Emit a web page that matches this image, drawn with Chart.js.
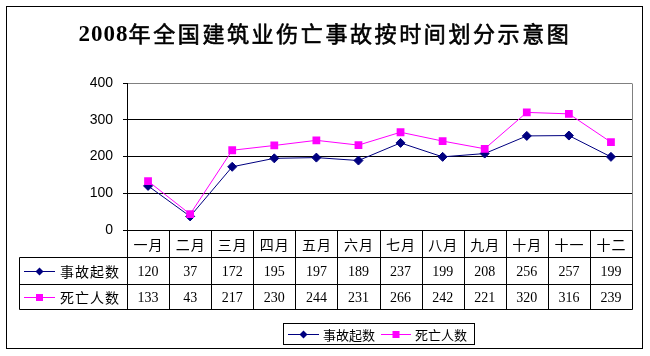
<!DOCTYPE html>
<html><head><meta charset="utf-8">
<script src="https://cdn.jsdelivr.net/npm/chart.js@4"></script>
<style>html,body{margin:0;padding:0;background:#fff;} canvas{display:block;}</style>
</head><body>
<canvas id="c" width="650" height="356" style="width:650px;height:356px"></canvas>
<script>
const titleYear = '2008';
const titleRest = '年全国建筑业伤亡事故按时间划分示意图';
const months = ['一月','二月','三月','四月','五月','六月','七月','八月','九月','十月','十一','十二'];
const accidentName = '事故起数';
const deathName = '死亡人数';
const accidents = [120, 37, 172, 195, 197, 189, 237, 199, 208, 256, 257, 199];
const deaths = [133, 43, 217, 230, 244, 231, 266, 242, 221, 320, 316, 239];
const yMin = 0, yMax = 400, yStep = 100;

const NAVY = '#000080', MAGENTA = '#FF00FF';
const CJK = '"Noto Sans CJK SC", sans-serif';

function drawMarker(ctx, x, y, style, color) {
  ctx.save();
  ctx.fillStyle = color;
  ctx.beginPath();
  if (style === 'diamond') {
    const r = 4;
    ctx.moveTo(x, y - r); ctx.lineTo(x + r, y); ctx.lineTo(x, y + r); ctx.lineTo(x - r, y);
    ctx.closePath();
  } else {
    ctx.rect(x - 3.5, y - 3.5, 7, 7);
  }
  ctx.fill();
  ctx.restore();
}
function drawKey(ctx, x1, x2, y, color, style) {
  ctx.save();
  ctx.strokeStyle = color; ctx.lineWidth = 1;
  ctx.beginPath(); ctx.moveTo(x1, Math.round(y) + 0.5); ctx.lineTo(x2, Math.round(y) + 0.5); ctx.stroke();
  ctx.restore();
  drawMarker(ctx, (x1 + x2) / 2, Math.round(y) + 0.5, style, color);
}

const framePlugin = {
  id: 'frame',
  beforeDraw(chart) {
    const ctx = chart.ctx;
    ctx.save(); ctx.fillStyle = '#fff'; ctx.fillRect(0, 0, chart.width, chart.height); ctx.restore();
  },
  afterDraw(chart) {
    const ctx = chart.ctx, a = chart.chartArea, x = chart.scales.x;
    const px = v => Math.round(v) + 0.5;
    ctx.save();
    // outer border
    ctx.strokeStyle = '#000'; ctx.lineWidth = 1;
    ctx.strokeRect(6.5, 6.5, 636, 342);
    // plot right border (gray)
    ctx.strokeStyle = '#808080';
    ctx.beginPath(); ctx.moveTo(px(a.right), px(a.top)); ctx.lineTo(px(a.right), px(a.bottom)); ctx.stroke();

    // title
    ctx.fillStyle = '#000'; ctx.strokeStyle = '#000';
    ctx.textAlign = 'left'; ctx.textBaseline = 'middle';
    ctx.letterSpacing = '1px';
    ctx.font = 'bold 23px "Liberation Serif", serif';
    const wYear = ctx.measureText(titleYear).width;
    ctx.font = '22px ' + CJK;
    ctx.letterSpacing = '2.6px';
    const wRest = ctx.measureText(titleRest).width;
    let tx = 325 - (wYear + wRest) / 2;
    ctx.font = 'bold 23px "Liberation Serif", serif';
    ctx.letterSpacing = '1px';
    ctx.fillText(titleYear, tx, 35);
    ctx.font = '22px ' + CJK;
    ctx.letterSpacing = '2.6px';
    ctx.lineWidth = 0.6;
    ctx.fillText(titleRest, tx + wYear, 34);
    ctx.strokeText(titleRest, tx + wYear, 34);
    ctx.letterSpacing = '0px';
    ctx.lineWidth = 1;

    // table
    const half = (x.getPixelForValue(1) - x.getPixelForValue(0)) / 2;
    const bounds = [];
    for (let i = 0; i <= months.length; i++) bounds.push(x.getPixelForValue(0) - half + i * 2 * half);
    const y0 = a.bottom, y1 = y0 + 27, y2 = y1 + 27, y3 = y2 + 25;
    const tLeft = 19;
    ctx.strokeStyle = '#000';
    ctx.beginPath();
    ctx.moveTo(px(bounds[0]), px(y0)); ctx.lineTo(px(bounds[12]), px(y0));
    [y1, y2, y3].forEach(yy => { ctx.moveTo(px(tLeft), px(yy)); ctx.lineTo(px(bounds[12]), px(yy)); });
    bounds.forEach(b => { ctx.moveTo(px(b), px(y0)); ctx.lineTo(px(b), px(y3)); });
    ctx.moveTo(px(tLeft), px(y1)); ctx.lineTo(px(tLeft), px(y3));
    ctx.stroke();

    ctx.fillStyle = '#000';
    ctx.textAlign = 'center'; ctx.textBaseline = 'middle';
    ctx.font = '14px ' + CJK;
    ctx.letterSpacing = '1px';
    months.forEach((m, i) => ctx.fillText(m, x.getPixelForValue(i) + 0.5, (y0 + y1) / 2 + 1));
    ctx.letterSpacing = '0px';
    ctx.font = '14px "Liberation Serif", serif';
    accidents.forEach((v, i) => ctx.fillText(String(v), x.getPixelForValue(i), (y1 + y2) / 2 + 2));
    deaths.forEach((v, i) => ctx.fillText(String(v), x.getPixelForValue(i), (y2 + y3) / 2 + 2));

    // row labels
    drawKey(ctx, 24, 55, (y1 + y2) / 2, NAVY, 'diamond');
    drawKey(ctx, 24, 55, (y2 + y3) / 2, MAGENTA, 'square');
    ctx.textAlign = 'left';
    ctx.font = '14px ' + CJK;
    ctx.letterSpacing = '1px';
    ctx.fillText(accidentName, 60, (y1 + y2) / 2 + 1);
    ctx.fillText(deathName, 60, (y2 + y3) / 2 + 1);
    ctx.letterSpacing = '0px';

    // legend
    ctx.strokeStyle = '#000';
    ctx.strokeRect(283.5, 323.5, 191, 21);
    const ly = 334;
    drawKey(ctx, 288, 319, ly, NAVY, 'diamond');
    drawKey(ctx, 381, 411, ly, MAGENTA, 'square');
    ctx.font = '13px ' + CJK;
    ctx.fillStyle = '#000';
    ctx.textAlign = 'left'; ctx.textBaseline = 'middle';
    ctx.fillText(accidentName, 323, ly + 1);
    ctx.fillText(deathName, 415, ly + 1);
    ctx.restore();
  }
};

new Chart(document.getElementById('c'), {
  type: 'line',
  data: {
    labels: months,
    datasets: [
      { label: accidentName, data: accidents, borderColor: NAVY, backgroundColor: NAVY,
        borderWidth: 1, pointStyle: 'rectRot', pointRadius: 4.5, pointBorderWidth: 1,
        pointBackgroundColor: NAVY, pointBorderColor: NAVY, tension: 0, order: 1 },
      { label: deathName, data: deaths, borderColor: MAGENTA, backgroundColor: MAGENTA,
        borderWidth: 1, pointStyle: 'rect', pointRadius: 5.5, pointBorderWidth: 0,
        pointBackgroundColor: MAGENTA, pointBorderColor: MAGENTA, tension: 0, order: 0 }
    ]
  },
  options: {
    responsive: false,
    animation: false,
    events: [],
    layout: { padding: { top: 83, bottom: 126, left: 0, right: 18 } },
    plugins: { legend: { display: false }, title: { display: false }, tooltip: { enabled: false } },
    scales: {
      x: { display: false, offset: true },
      y: {
        min: yMin, max: yMax,
        afterFit(scale) { scale.width = 127; },
        ticks: { stepSize: yStep, padding: 10, color: '#000',
                 font: { family: '"Liberation Sans", Arial, sans-serif', size: 14 } },
        grid: { tickLength: 4, tickColor: '#000', lineWidth: 1,
                color: c => (c.tick && c.tick.value === yMax) ? '#808080' : '#000' },
        border: { color: '#000', width: 1 }
      }
    }
  },
  plugins: [framePlugin]
});
</script>
</body></html>
